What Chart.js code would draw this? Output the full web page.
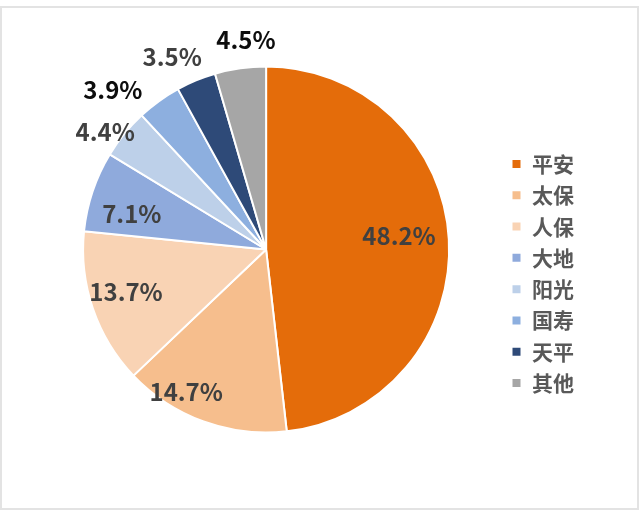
<!DOCTYPE html>
<html>
<head>
<meta charset="utf-8">
<script src="https://cdn.jsdelivr.net/npm/chart.js@4.4.0/dist/chart.umd.min.js"></script>
<style>
  html, body { margin: 0; padding: 0; background: #fff; }
  #frame {
    position: absolute; left: 0; top: 6px; width: 639px; height: 504px;
    box-sizing: border-box; border: 2px solid #e3e3e3;
  }
  #frame canvas { display: block; }
</style>
</head>
<body>
<div id="frame"><canvas id="pieChart" width="635" height="500"></canvas></div>
<script>
// 市场份额（%）
const companies = ["平安", "太保", "人保", "大地", "阳光", "国寿", "天平", "其他"];
const shares = [48.2, 14.7, 13.7, 7.1, 4.4, 3.9, 3.5, 4.5];
const sliceColors = ["#E46C0A", "#F6BE8D", "#F9D3B4", "#8FAADC", "#BDD0E9", "#8DAFDF", "#2E4A78", "#A6A6A6"];

// 标签位置：[半径倍数, 相对扇区中线的角度偏移(度)]，文字颜色
const labelPlace = [[0.73, -2.5], [0.89, 9.4], [0.8, 2], [0.76, -3.5], [1.09, -3], [1.21, -8], [1.17, -3.5], [1.15, 2.6]];
const labelColors = ["#404040", "#404040", "#404040", "#404040", "#404040", "#0d0d0d", "#404040", "#0d0d0d"];

const FONT = "'Noto Sans CJK SC', 'Microsoft YaHei', sans-serif";

const pctLabels = {
  id: "pctLabels",
  afterDatasetsDraw(chart) {
    const ctx = chart.ctx;
    const meta = chart.getDatasetMeta(0);
    ctx.save();
    ctx.font = "bold 24px " + FONT;
    ctx.textAlign = "center";
    ctx.textBaseline = "middle";
    meta.data.forEach(function (arc, i) {
      const p = arc.getProps(["x", "y", "startAngle", "endAngle", "outerRadius"], true);
      const mid = (p.startAngle + p.endAngle) / 2 + labelPlace[i][1] * Math.PI / 180;
      const r = p.outerRadius * labelPlace[i][0];
      ctx.fillStyle = labelColors[i];
      ctx.fillText(shares[i].toFixed(1) + "%", p.x + Math.cos(mid) * r, p.y + Math.sin(mid) * r);
    });
    ctx.restore();
  },
};

new Chart(document.getElementById("pieChart"), {
  type: "pie",
  data: {
    labels: companies,
    datasets: [
      {
        data: shares,
        backgroundColor: sliceColors,
        borderColor: "#ffffff",
        borderWidth: 2,
      },
    ],
  },
  options: {
    responsive: false,
    animation: false,
    layout: { padding: { left: 29, right: 53, top: 57.5, bottom: 74.5 } },
    plugins: {
      tooltip: { enabled: false },
      legend: {
        position: "right",
        // 空标题只用来把图例整体往下挪
        title: { display: true, text: "", font: { size: 10, lineHeight: 1 }, padding: { top: 0, bottom: 38 } },
        labels: {
          boxWidth: 10,
          boxHeight: 10,
          padding: 10.3,
          color: "#595959",
          font: { family: FONT, size: 21, weight: "bold" },
        },
      },
    },
  },
  plugins: [pctLabels],
});
</script>
</body>
</html>
